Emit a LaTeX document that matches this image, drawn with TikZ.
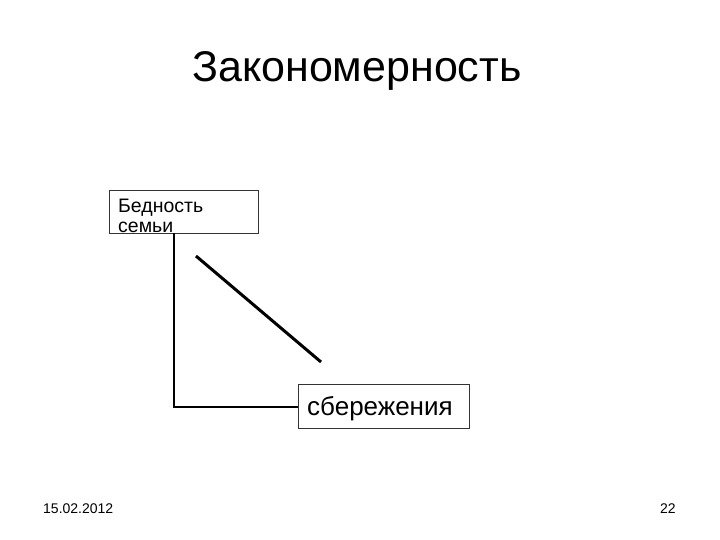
\documentclass[tikz,border=0pt]{standalone}
\usepackage{fontspec}
\setmainfont{Liberation Sans}
\begin{document}
\begin{tikzpicture}[x=1pt,y=-1pt,
  box/.style={draw=black!80,line width=0.8pt},
  conn/.style={line width=2pt},
  txt/.style={inner sep=0pt,anchor=base west}]
\useasboundingbox (0,0) rectangle (720,540);
\node[txt,font=\fontsize{43}{43}\selectfont] (title) at (192,82) {Закономерность};
\draw[box] (109,190) rectangle (258,233);
\coordinate (b1) at (174,233);
\node[txt,font=\fontsize{19.5}{19.5}\selectfont] (t1) at (118,213) {Бедность};
\begin{scope}
\clip (109,190) rectangle (258,232);
\node[txt,font=\fontsize{19.5}{19.5}\selectfont] (t2) at (118,233) {семьи};
\end{scope}
\node[draw=black!80,line width=0.8pt,minimum width=171pt,minimum height=44pt,inner sep=0pt,anchor=north west] (b2) at (298,384) {};
\node[txt,font=\fontsize{26}{26}\selectfont] (t3) at (307,415) {сбережения};
\draw[conn] (b1) -- (174,407) -- (b2.west|-0,407);
\coordinate (d1) at (196,256);
\coordinate (d2) at (321,362);
\draw[line width=3pt] (d1) -- (d2);
\node[txt,font=\fontsize{14}{14}\selectfont] (date) at (43,513) {15.02.2012};
\node[txt,font=\fontsize{14}{14}\selectfont] (num) at (660,513) {22};
\end{tikzpicture}
\end{document}
